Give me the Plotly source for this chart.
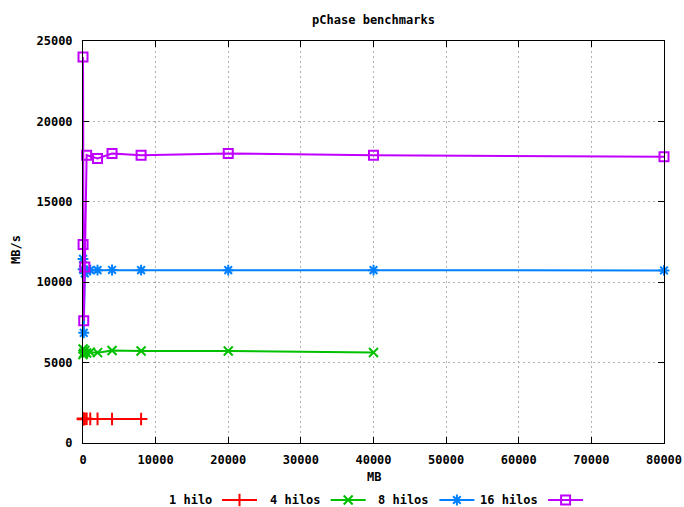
import plotly.graph_objects as go

# Block sizes (MB) and measured bandwidth (MB/s) per thread count
series_names = ["1 hilo", "4 hilos", "8 hilos", "16 hilos"]
series_colors = ["#ff0000", "#00c000", "#0080ff", "#c000ff"]
series_symbols = ["cross-thin-open", "x-thin-open", "asterisk-open", "square-open"]

x_1hilo = [1, 10, 100, 250, 500, 1000, 2000, 4000, 8000]
y_1hilo = [1480, 1520, 1500, 1490, 1510, 1500, 1500, 1490, 1490]

x_4hilos = [1, 10, 100, 250, 500, 1000, 2000, 4000, 8000, 20000, 40000]
y_4hilos = [5500, 5850, 5600, 5750, 5600, 5650, 5620, 5750, 5720, 5720, 5630]

x_8hilos = [1, 10, 100, 250, 500, 1000, 2000, 4000, 8000, 20000, 40000, 80000]
y_8hilos = [11450, 10800, 6850, 10550, 10700, 10750, 10750, 10760, 10750, 10750, 10750, 10730]

x_16hilos = [1, 10, 100, 250, 500, 2000, 4000, 8000, 20000, 40000, 80000]
y_16hilos = [24000, 12350, 7600, 10950, 17900, 17700, 18000, 17900, 18000, 17900, 17800]

xs = [x_1hilo, x_4hilos, x_8hilos, x_16hilos]
ys = [y_1hilo, y_4hilos, y_8hilos, y_16hilos]

x_ticks = [0, 10000, 20000, 30000, 40000, 50000, 60000, 70000, 80000]
y_ticks = [0, 5000, 10000, 15000, 20000, 25000]

W, H = 684, 507
plot_left, plot_right, plot_top, plot_bottom = 83, 664, 41, 443
FONT = "DejaVu Sans Mono"

fig = go.Figure()

for name, color, sym, xv, yv in zip(series_names, series_colors, series_symbols, xs, ys):
    fig.add_trace(go.Scatter(
        x=xv, y=yv, name=name, mode="lines+markers",
        line=dict(color=color, width=2),
        marker=dict(symbol=sym, size=9, color=color, line=dict(color=color, width=2)),
        cliponaxis=False, showlegend=False,
    ))

# Key below the plot: label text followed by a line sample with its marker
key_x0, key_step, key_len, key_y = 222, 108.7, 35, 500
for i, (name, color, sym) in enumerate(zip(series_names, series_colors, series_symbols)):
    x0 = key_x0 + i * key_step
    fig.add_trace(go.Scatter(
        x=[x0, x0 + key_len], y=[key_y, key_y], mode="lines",
        line=dict(color=color, width=2), xaxis="x2", yaxis="y2",
        showlegend=False, hoverinfo="skip", cliponaxis=False,
    ))
    fig.add_trace(go.Scatter(
        x=[x0 + key_len / 2], y=[key_y], mode="markers",
        marker=dict(symbol=sym, size=9, color=color, line=dict(color=color, width=2)),
        xaxis="x2", yaxis="y2", showlegend=False, hoverinfo="skip", cliponaxis=False,
    ))
    fig.add_annotation(
        x=x0 - 8, y=key_y, xref="x2", yref="y2", text=name, showarrow=False,
        xanchor="right", yanchor="middle",
        font=dict(family=FONT, size=12, color="black", weight="bold"),
    )

axis_font = dict(family=FONT, size=12, color="black", weight="bold")
grid_style = dict(showgrid=True, gridcolor="#b0b0b0", griddash="2px,3px", gridwidth=1)

fig.update_layout(
    width=W, height=H,
    margin=dict(l=0, r=0, t=0, b=0, pad=0, autoexpand=False),
    paper_bgcolor="white", plot_bgcolor="rgba(0,0,0,0)",
    title=dict(
        text="pChase benchmarks", x=(plot_left + plot_right) / 2 / W, xanchor="center",
        y=1 - 20 / H, yanchor="middle", font=axis_font,
    ),
    xaxis=dict(
        domain=[plot_left / W, plot_right / W], range=[0, 80000],
        tickvals=x_ticks, ticktext=[str(v) for v in x_ticks],
        ticks="inside", ticklen=6, tickcolor="black", tickwidth=1,
        showline=True, linecolor="black", linewidth=1, mirror="allticks",
        zeroline=False, tickfont=axis_font, ticklabelstandoff=6, automargin=False,
        **grid_style,
    ),
    yaxis=dict(
        domain=[1 - plot_bottom / H, 1 - plot_top / H], range=[0, 25000],
        tickvals=y_ticks, ticktext=[str(v) for v in y_ticks],
        ticks="inside", ticklen=6, tickcolor="black", tickwidth=1,
        showline=True, linecolor="black", linewidth=1, mirror="allticks",
        zeroline=False, tickfont=axis_font, ticklabelstandoff=7, automargin=False,
        **grid_style,
    ),
    xaxis2=dict(domain=[0, 1], range=[0, W], visible=False, anchor="y2", automargin=False),
    yaxis2=dict(domain=[0, 1], range=[H, 0], visible=False, anchor="x2", automargin=False),
    annotations=list(fig.layout.annotations) + [
        dict(text="MB", x=(plot_left + plot_right) / 2 / W, y=1 - 477 / H,
             xref="paper", yref="paper", showarrow=False,
             xanchor="center", yanchor="middle", font=axis_font),
        dict(text="MB/s", x=16 / W, y=1 - 250 / H, xref="paper", yref="paper",
             showarrow=False, textangle=-90, xanchor="center", yanchor="middle",
             font=axis_font),
    ],
)

fig.write_html("out.html")
